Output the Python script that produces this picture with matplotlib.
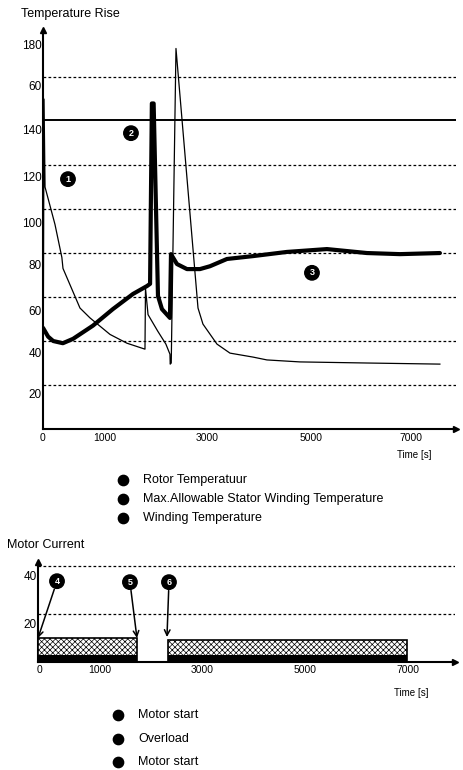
import matplotlib.pyplot as plt

plt.rcParams['font.family'] = ['Liberation Sans', 'DejaVu Sans']
plt.rcParams['hatch.linewidth'] = 0.5

# ------------------- DATA ------------------- #
# temperature rise chart
rotor_t = [0, 20, 40, 235, 370, 392, 725, 922, 1314, 1647, 2000, 2010, 2060,
           2250, 2410, 2490, 2495, 2515, 2608, 3040, 3137, 3412, 3667, 4118,
           4392, 5039, 6353, 7784]
rotor_v = [0, 150, 110, 93, 78, 73, 55, 50.5, 43, 39, 36.3, 64, 52,
           44.5, 38.6, 34, 29.5, 30, 173, 55, 47.7, 38.6, 34.5, 32.7,
           31.4, 30.5, 30, 29.5]

winding_t = [0, 100, 200, 390, 590, 980, 1370, 1765, 2040, 2100, 2135, 2170,
             2255, 2333, 2490, 2510, 2627, 2824, 3078, 3275, 3608, 4118, 4784,
             5569, 6353, 7000, 7784]
winding_v = [46, 42, 40, 39, 41, 47, 54.5, 61.4, 65, 66, 148, 148,
             60.5, 54.5, 50.5, 79.5, 75, 72.7, 72.7, 74, 77.3, 78.6, 80.5,
             81.8, 80, 79.5, 80]

max_allowable = 140.5

temp_grid = [20, 40, 60, 80, 100, 120, 160]
temp_tick_pos = [16, 35, 54, 75, 94, 115, 136, 156, 175]
temp_tick_labels = ["20", "40", "60", "80", "100", "120", "140", "60", "180"]
time_tick_pos_top = [0, 1220, 3220, 5250, 7220]
time_tick_labels = ["0", "1000", "3000", "5000", "7000"]

# motor current chart
current_start = [0, 2520]
current_end = [1920, 7165]
current_level = [10, 9]
current_base = 2.8
current_grid = [20, 40]
current_tick_pos = [16, 36]
current_tick_labels = ["20", "40"]
time_tick_pos_bot = [30, 1200, 3180, 5180, 7180]

temp_legend = ["Rotor Temperatuur", "Max.Allowable Stator Winding Temperature",
               "Winding Temperature"]
current_legend = ["Motor start", "Overload", "Motor start"]


# ------------------- HELPERS ------------------- #
def arrow_axes(ax):
    ax.spines["top"].set_visible(False)
    ax.spines["right"].set_visible(False)
    ax.spines["left"].set_linewidth(1.5)
    ax.spines["bottom"].set_linewidth(1.5)
    ax.plot(1, 0, ">k", ms=5, transform=ax.transAxes, clip_on=False)
    ax.plot(0, 1, "^k", ms=5, transform=ax.transAxes, clip_on=False)
    ax.tick_params(length=0)


def dotted_grid(ax, levels):
    for v in levels:
        ax.axhline(v, color="black", lw=0.9, ls=(0, (2.2, 1.8)), zorder=1)


def badge(ax, x, y, num):
    ax.text(x, y, num, color="white", fontsize=6.5, fontweight="bold",
            ha="center", va="center",
            bbox=dict(boxstyle="circle,pad=0.3", fc="black", ec="black"))


fig = plt.figure(figsize=(4.64, 7.7), dpi=100)

# ------------------- TEMPERATURE RISE ------------------- #
ax1 = fig.add_axes([43 / 464, 1 - 429 / 770, 413 / 464, 399 / 770])
ax1.set_xlim(0, 8100)
ax1.set_ylim(0, 181.4)
arrow_axes(ax1)
dotted_grid(ax1, temp_grid)
ax1.axhline(max_allowable, color="black", lw=1.4, zorder=2)
ax1.plot(rotor_t, rotor_v, color="black", lw=0.9, zorder=3)
ax1.plot(winding_t, winding_v, color="black", lw=3.0, zorder=4,
         solid_joinstyle="round", solid_capstyle="round")

ax1.set_yticks(temp_tick_pos, temp_tick_labels, fontsize=8.5)
ax1.set_xticks(time_tick_pos_top, time_tick_labels, fontsize=7.5)
ax1.tick_params(axis="y", pad=1)
ax1.tick_params(axis="x", pad=3)

badge(ax1, 490, 113.6, "1")
badge(ax1, 1725, 134.5, "2")
badge(ax1, 5275, 71, "3")

# ------------------- MOTOR CURRENT ------------------- #
ax2 = fig.add_axes([38 / 464, 1 - 662 / 770, 417 / 464, 100 / 770])
ax2.set_xlim(0, 8100)
ax2.set_ylim(0, 41.7)
arrow_axes(ax2)
dotted_grid(ax2, current_grid)

widths = [e - s for s, e in zip(current_start, current_end)]
ax2.bar(current_start, current_level, width=widths, align="edge",
        facecolor="white", edgecolor="black", hatch="xxxxxx", lw=1.2, zorder=3)
ax2.bar(current_start, [current_base] * len(current_start), width=widths,
        align="edge", color="black", zorder=4)

ax2.set_yticks(current_tick_pos, current_tick_labels, fontsize=8.5)
ax2.set_xticks(time_tick_pos_bot, time_tick_labels, fontsize=7.5)
ax2.tick_params(axis="y", pad=1)
ax2.tick_params(axis="x", pad=2)

arrow = dict(arrowstyle="->", color="black", lw=1.1, shrinkA=6, shrinkB=0)
for (hx, hy), (tx, ty), num in [((0, 10), (369, 33.7), "4"),
                                 ((1922, 10), (1786, 33.3), "5"),
                                 ((2505, 10.4), (2544, 33.3), "6")]:
    ax2.annotate("", xy=(hx, hy), xytext=(tx, ty), arrowprops=arrow)
    badge(ax2, tx, ty, num)

# ------------------- TEXT & LEGENDS (pixel overlay) ------------------- #
ov = fig.add_axes([0, 0, 1, 1], zorder=10)
ov.set_xlim(0, 464)
ov.set_ylim(770, 0)
ov.axis("off")

ov.text(21, 14, "Temperature Rise", fontsize=9, va="center", ha="left")
ov.text(7, 545, "Motor Current", fontsize=9, va="center", ha="left")
ov.text(414, 455, "Time [s]", fontsize=7, va="center", ha="center")
ov.text(411, 693, "Time [s]", fontsize=7, va="center", ha="center")

for i, label in enumerate(temp_legend):
    y = 480 + 19 * i
    ov.scatter([123], [y], s=55, color="black")
    ov.text(143, y, label, fontsize=9, va="center", ha="left")

for i, label in enumerate(current_legend):
    y = 715 + 23.5 * i
    ov.scatter([118], [y], s=55, color="black")
    ov.text(138, y, label, fontsize=9, va="center", ha="left")

fig.savefig("out.png", dpi=100)
